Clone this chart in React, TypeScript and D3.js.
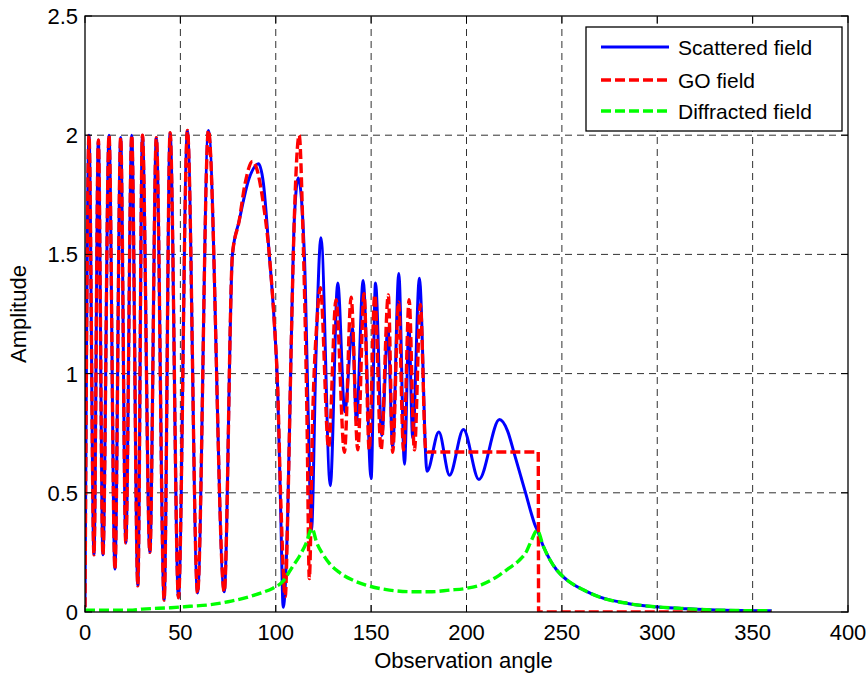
import React from 'react';
import * as d3 from 'd3';

const W = 866;
const H = 677;
const plot = { left: 85, right: 848, top: 16, bottom: 612 };

const xTicks = [0, 50, 100, 150, 200, 250, 300, 350, 400];
const yTicks = [0, 0.5, 1, 1.5, 2, 2.5];
const yTickLabels = ['0', '0.5', '1', '1.5', '2', '2.5'];

// lobes where the scattered and GO fields coincide
const sharedAngle = [0, 2.1, 4.7, 7.0, 9.4, 12.6, 15.7, 18.7, 21.4, 24.5, 27.7, 30.1, 34.0, 37.4, 41.5, 44.6, 49.0, 53.7, 59.0, 64.7, 73.0, 77.3, 80.8];
const sharedAmp = [0.02, 2.0, 0.24, 1.98, 0.24, 2.0, 0.18, 1.99, 0.29, 2.0, 0.11, 2.0, 0.25, 1.99, 0.05, 2.01, 0.06, 2.02, 0.08, 2.02, 0.085, 1.5, 1.64];

const scatteredAngle = [86.1, 91.0, 93.5, 96.6, 99.2, 101, 102.7, 103.9, 106.2, 108, 109.7, 111.8, 115, 117.1, 118.7, 121.1, 123.7, 128.6, 132.5, 136.2, 140.2, 142.3, 145.8, 150, 152.3, 155.6, 158.8, 161.3, 164.5, 167.5, 169.8, 171.8, 175.3, 179.3, 185.5, 191.1, 198.4, 206.5, 217.3, 221.5, 225.2, 228.8, 231.3, 234.1, 235.9, 237.1, 240.3, 243.8, 247.3, 252.7, 261.5, 270.4, 284.5, 298.6, 312.8, 330.5, 360];
const scatteredAmp = [1.82, 1.88, 1.8, 1.5, 1.22, 0.94, 0.385, 0.02, 0.385, 1.08, 1.64, 1.82, 1.5, 0.8, 0.34, 1.08, 1.57, 0.53, 1.38, 0.84, 1.19, 0.8, 1.39, 0.56, 1.38, 0.74, 1.19, 0.69, 1.42, 0.62, 1.2, 0.73, 1.4, 0.59, 0.755, 0.574, 0.765, 0.556, 0.807, 0.76, 0.66, 0.56, 0.49, 0.41, 0.365, 0.343, 0.275, 0.218, 0.176, 0.134, 0.092, 0.061, 0.036, 0.022, 0.015, 0.008, 0.005];

const goAngle = [84, 87.8, 90, 93, 96.6, 99.2, 101, 102.7, 105, 106.2, 108, 109.7, 112.3, 114.1, 116.4, 117.6, 119.3, 121.6, 123.4, 127.7, 131.6, 136, 139.5, 143, 146.3, 149, 151.9, 155.2, 159, 161.3, 164.4, 167, 169.9, 172.7, 175.8, 178.6, 179.2, 237.6, 237.8, 360];
const goAmp = [1.8, 1.89, 1.86, 1.74, 1.5, 1.22, 0.94, 0.45, 0.065, 0.385, 1.08, 1.64, 2.0, 1.64, 0.8, 0.14, 0.8, 1.22, 1.36, 0.69, 1.31, 0.67, 1.32, 0.68, 1.335, 0.68, 1.33, 0.68, 1.33, 0.67, 1.3, 0.68, 1.31, 0.68, 1.29, 0.68, 0.671, 0.671, 0, 0];

const diffractedAngle = [0, 25, 30, 45, 55, 65, 75, 86, 93, 98.3, 103.6, 108.8, 112.5, 115.9, 119, 121.5, 124.5, 128, 133, 140, 147.3, 159.6, 172, 182, 191, 199.8, 208, 217.3, 222.5, 227.8, 231.5, 234, 237.1, 240.3, 243.8, 247.3, 252.7, 261.5, 270.4, 284.5, 298.6, 312.8, 330.5, 360];
const diffractedAmp = [0.008, 0.008, 0.012, 0.018, 0.024, 0.03, 0.043, 0.064, 0.082, 0.099, 0.127, 0.19, 0.235, 0.288, 0.35, 0.29, 0.245, 0.205, 0.168, 0.135, 0.113, 0.092, 0.085, 0.085, 0.092, 0.099, 0.115, 0.155, 0.185, 0.218, 0.255, 0.3, 0.343, 0.275, 0.218, 0.176, 0.134, 0.092, 0.061, 0.036, 0.022, 0.015, 0.008, 0.005];

const legendNames = ['Scattered field', 'GO field', 'Diffracted field'];
const legendColors = ['#0000ff', '#ff0000', '#00ff00'];
const legendDash = [null, '10,4', '10,4'];
const lineWidths = [3, 3.4, 3.4];

const zipPts = (a: number[], v: number[]) => a.map((d, i) => [d, v[i]] as [number, number]);

const FONT = 'Liberation Sans, Arial, Helvetica, sans-serif';

export default function App() {
  const x = d3.scaleLinear().domain([0, 400]).range([plot.left, plot.right]);
  const y = d3.scaleLinear().domain([0, 2.5]).range([plot.bottom, plot.top]);

  const line = d3.line<[number, number]>()
    .x(d => x(d[0]))
    .y(d => y(d[1]))
    .curve(d3.curveMonotoneX);

  const shared = zipPts(sharedAngle, sharedAmp);
  const scattered = shared.concat(zipPts(scatteredAngle, scatteredAmp));
  const go = shared.concat(zipPts(goAngle, goAmp));
  const diffracted = zipPts(diffractedAngle, diffractedAmp);

  const series = [scattered, go, diffracted];

  // legend box
  const lg = { x: 586, y: 27, w: 256, h: 104 };
  const rowY = [47, 80, 111];

  return (
    <svg width={W} height={H} style={{ position: 'absolute', left: 0, top: 0, background: '#fff' }} fontFamily={FONT}>
      <defs>
        <clipPath id="plotClip">
          <rect x={plot.left} y={plot.top} width={plot.right - plot.left} height={plot.bottom - plot.top} />
        </clipPath>
      </defs>
      <rect x={0} y={0} width={W} height={H} fill="#fff" />

      {/* grid */}
      <g stroke="#1a1a1a" strokeWidth={0.9} strokeDasharray="7,5">
        {xTicks.slice(1, -1).map(t => (
          <line key={'gx' + t} x1={x(t)} x2={x(t)} y1={plot.bottom} y2={plot.top} />
        ))}
        {yTicks.slice(1, -1).map(t => (
          <line key={'gy' + t} x1={plot.left} x2={plot.right} y1={y(t)} y2={y(t)} />
        ))}
      </g>

      {/* series */}
      <g clipPath="url(#plotClip)" fill="none" strokeLinejoin="round">
        {series.map((s, i) => (
          <path
            key={i}
            d={line(s) || ''}
            stroke={legendColors[i]}
            strokeWidth={lineWidths[i]}
            strokeDasharray={legendDash[i] || undefined}
          />
        ))}
      </g>

      {/* box and ticks */}
      <rect x={plot.left} y={plot.top} width={plot.right - plot.left} height={plot.bottom - plot.top} fill="none" stroke="#000" strokeWidth={1.3} />
      <g stroke="#000" strokeWidth={1}>
        {xTicks.map(t => (
          <g key={'tx' + t}>
            <line x1={x(t)} x2={x(t)} y1={plot.bottom} y2={plot.bottom - 7} />
            <line x1={x(t)} x2={x(t)} y1={plot.top} y2={plot.top + 7} />
          </g>
        ))}
        {yTicks.map(t => (
          <g key={'ty' + t}>
            <line x1={plot.left} x2={plot.left + 7} y1={y(t)} y2={y(t)} />
            <line x1={plot.right} x2={plot.right - 7} y1={y(t)} y2={y(t)} />
          </g>
        ))}
      </g>

      {/* tick labels */}
      <g fontSize={22} fill="#000">
        {xTicks.map(t => (
          <text key={'lx' + t} x={x(t)} y={640} textAnchor="middle">{t}</text>
        ))}
        {yTicks.map((t, i) => (
          <text key={'ly' + t} x={78} y={y(t) + 8} textAnchor="end">{yTickLabels[i]}</text>
        ))}
      </g>

      {/* axis labels */}
      <text x={(plot.left + plot.right) / 2 - 3} y={668} textAnchor="middle" fontSize={22}>Observation angle</text>
      <text transform={`translate(26,${(plot.top + plot.bottom) / 2}) rotate(-90)`} textAnchor="middle" fontSize={22}>Amplitude</text>

      {/* legend */}
      <rect x={lg.x} y={lg.y} width={lg.w} height={lg.h} fill="#fff" stroke="#000" strokeWidth={1.3} />
      {legendNames.map((n, i) => (
        <g key={n}>
          <line
            x1={601} x2={669} y1={rowY[i]} y2={rowY[i]}
            stroke={legendColors[i]} strokeWidth={lineWidths[i]}
            strokeDasharray={legendDash[i] || undefined}
          />
          <text x={678} y={rowY[i] + 7.5} fontSize={21}>{n}</text>
        </g>
      ))}
    </svg>
  );
}
